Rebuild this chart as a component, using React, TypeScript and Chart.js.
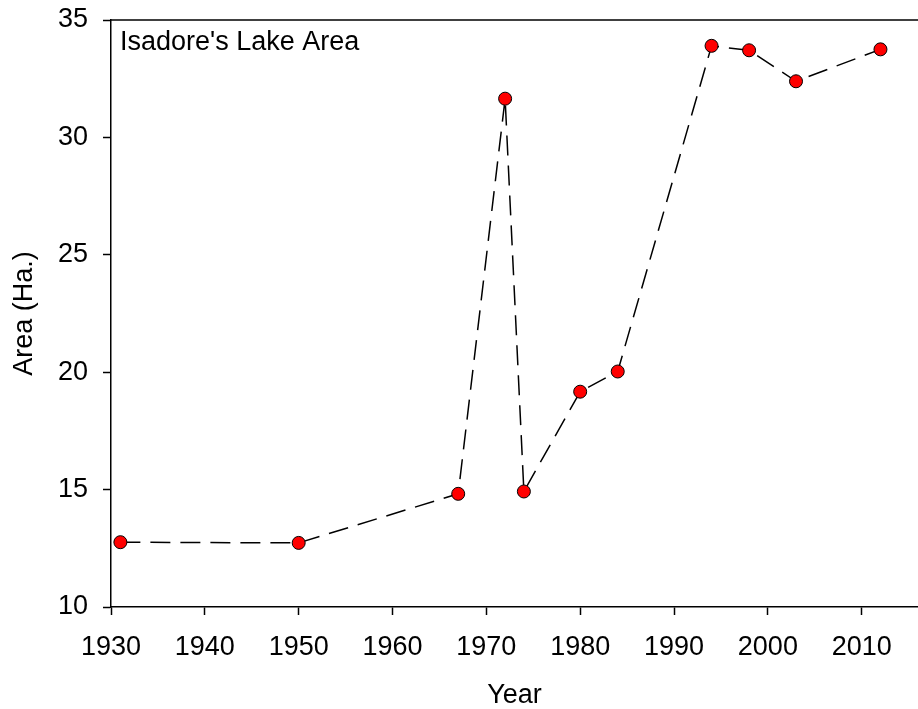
import React, { useEffect, useRef } from "react";
import { Chart, registerables } from "chart.js";

Chart.register(...registerables);

const years = [1931, 1950, 1967, 1972, 1974, 1980, 1984, 1994, 1998, 2003, 2012];
const area = [12.76, 12.73, 14.82, 31.65, 14.92, 19.17, 20.03, 33.9, 33.71, 32.39, 33.75];
const xTicks = [1930, 1940, 1950, 1960, 1970, 1980, 1990, 2000, 2010];
const yTicks = [10, 15, 20, 25, 30, 35];
const chartTitle = "Isadore's Lake Area";
const xTitle = "Year";
const yTitle = "Area (Ha.)";

const FONT = "'Liberation Sans', Arial, sans-serif";
const FS = 27;

export default function App() {
  const ref = useRef<HTMLCanvasElement | null>(null);
  useEffect(() => {
    document.body.style.margin = "0";
    const canvas = ref.current;
    if (!canvas) return;
    const frame = {
      id: "frame",
      afterDraw(chart: any) {
        const { ctx, chartArea } = chart;
        ctx.save();
        ctx.strokeStyle = "#000";
        ctx.lineWidth = 1.5;
        ctx.beginPath();
        ctx.moveTo(chartArea.left, chartArea.top);
        ctx.lineTo(chartArea.right, chartArea.top);
        ctx.stroke();
        ctx.fillStyle = "#000";
        ctx.font = `${FS}px ${FONT}`;
        ctx.textAlign = "left";
        ctx.textBaseline = "alphabetic";
        ctx.fillText(chartTitle, chartArea.left + 9, chartArea.top + 30);
        ctx.restore();
      },
    };
    const chart = new Chart(canvas, {
      type: "scatter",
      data: {
        datasets: [
          {
            data: years.map((y, i) => ({ x: y, y: area[i] })),
            showLine: true,
            borderColor: "#000",
            borderWidth: 1.5,
            borderDash: [20, 10],
            pointRadius: 6.5,
            pointHoverRadius: 6.5,
            pointBackgroundColor: "#ff0000",
            pointBorderColor: "#000",
            pointBorderWidth: 1,
          },
        ],
      },
      options: {
        animation: false,
        responsive: false,
        layout: { autoPadding: false, padding: { top: 20, left: 0, right: 0, bottom: 0 } },
        plugins: { legend: { display: false }, tooltip: { enabled: false } },
        scales: {
          x: {
            type: "linear",
            min: 1930,
            max: 2016,
            afterFit: (s: any) => {
              s.height = 102;
              s.paddingRight = 0;
              s.paddingLeft = 0;
            },
            afterBuildTicks: (s: any) => {
              s.ticks = xTicks.map((v) => ({ value: v }));
            },
            ticks: {
              includeBounds: false,
              stepSize: 10,
              color: "#000",
              font: { family: FONT, size: FS },
              padding: 16,
              maxRotation: 0,
              autoSkip: false,
              callback: (v: any) => String(v),
            },
            grid: {
              drawOnChartArea: false,
              drawTicks: true,
              tickLength: 8,
              tickWidth: 1.5,
              color: "#000",
            },
            border: { color: "#000", width: 1.5 },
            title: {
              display: true,
              text: xTitle,
              color: "#000",
              font: { family: FONT, size: FS },
              padding: { top: 0, bottom: -3 },
            },
          },
          y: {
            type: "linear",
            min: 10,
            max: 35,
            afterFit: (s: any) => {
              s.width = 111;
              s.paddingTop = 0;
              s.paddingBottom = 0;
            },
            afterBuildTicks: (s: any) => {
              s.ticks = yTicks.map((v) => ({ value: v }));
            },
            ticks: {
              stepSize: 5,
              color: "#000",
              font: { family: FONT, size: FS },
              padding: 15,
              callback: (v: any) => String(v),
            },
            grid: {
              drawOnChartArea: false,
              drawTicks: true,
              tickLength: 8,
              tickWidth: 1.5,
              color: "#000",
            },
            border: { color: "#000", width: 1.5 },
            title: {
              display: true,
              text: yTitle,
              color: "#000",
              font: { family: FONT, size: FS },
              padding: { top: 8, bottom: 0 },
            },
          },
        },
      },
      plugins: [frame],
    });
    return () => chart.destroy();
  }, []);
  return (
    <div style={{ width: 918, height: 709 }}>
      <canvas ref={ref} width={918} height={709} style={{ display: "block" }} />
    </div>
  );
}
